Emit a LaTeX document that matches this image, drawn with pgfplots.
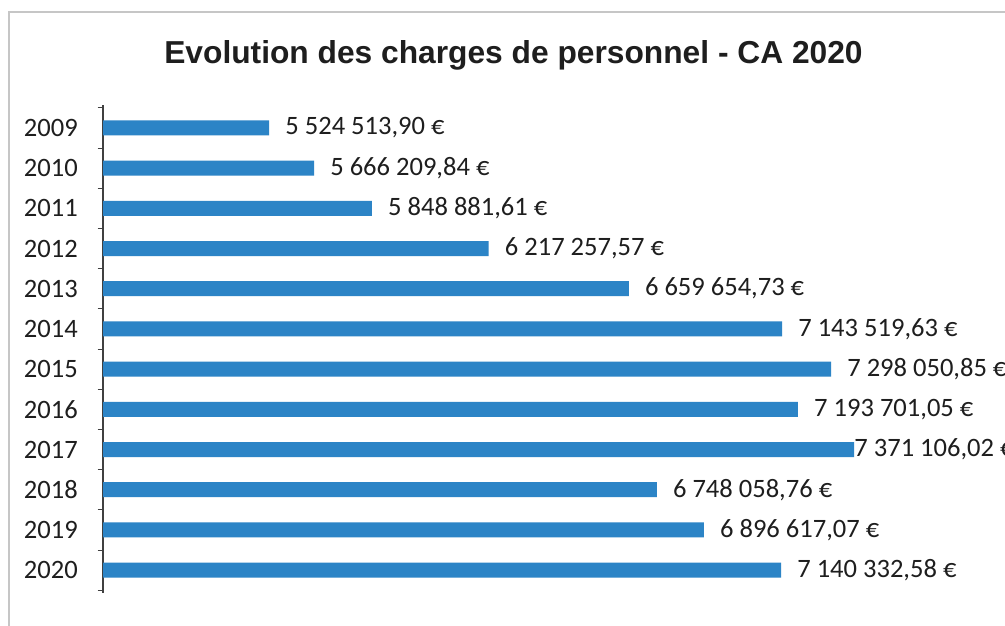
\documentclass[border=0pt]{standalone}
\usepackage{pgfplots}
\pgfplotsset{compat=1.18}
\usepackage{pgfplotstable}
\usepackage{fontspec}
\setmainfont{Carlito}
\newfontfamily\titlefont{Liberation Sans}
\definecolor{barblue}{RGB}{44,132,198}
\definecolor{txt}{RGB}{30,30,30}
\pgfplotstableread[col sep=semicolon]{
y;v;lab;sh
2009;5524513.90;{5 524 513,90 €};12
2010;5666209.84;{5 666 209,84 €};12
2011;5848881.61;{5 848 881,61 €};12
2012;6217257.57;{6 217 257,57 €};12
2013;6659654.73;{6 659 654,73 €};12
2014;7143519.63;{7 143 519,63 €};12
2015;7298050.85;{7 298 050,85 €};12
2016;7193701.05;{7 193 701,05 €};12
2017;7371106.02;{7 371 106,02 €};0
2018;6748058.76;{6 748 058,76 €};12
2019;6896617.07;{6 896 617,07 €};12
2020;7140332.58;{7 140 332,58 €};12
}\data
\begin{document}
\begin{tikzpicture}[x=1pt,y=1pt]
\path[use as bounding box] (0,0) rectangle (753.75,468.75);
\clip (0,0) rectangle (753.75,468.75);
\fill[white] (0,0) rectangle (753.75,468.75);
\draw[gray!45, line width=1.2pt] (6.75,-10) -- (6.75,459.75) -- (770,459.75);
\node[anchor=base, font=\titlefont\bfseries\fontsize{23.8}{28}\selectfont, text=txt] at (385.1,420.75) {Evolution des charges de personnel - CA 2020};
\begin{axis}[at={(77.25pt,24pt)}, anchor=south west, width=712.8pt, height=366pt, scale only axis,
  xmin=5000000, xmax=8000000, ymin=2008.43, ymax=2020.57, y dir=reverse,
  axis x line=none, axis y line*=left,
  y axis line style={line width=1.1pt, color=txt!85},
  ytick={2009,2010,...,2020},
  yticklabels={2009,2010,2011,2012,2013,2014,2015,2016,2017,2018,2019,2020},
  major tick length=0pt,
  minor ytick={2008.5,2009.5,...,2020.5}, minor tick length=4pt, tick align=center,
  minor tick style={line width=0.6pt, color=txt!85},
  yticklabel style={font=\fontsize{19.9}{24}\selectfont, text=txt, anchor=east, inner sep=0pt, xshift=-18.75pt},
  xbar, bar width=11.25pt,
  nodes near coords, point meta=explicit symbolic,
  visualization depends on={\thisrow{sh}\as\myshift},
  nodes near coords style={anchor=west, inner sep=0pt, font=\fontsize{19.9}{24}\selectfont, text=txt, xshift=\myshift*1pt},
]
\addplot[fill=barblue, draw=none] table[x=v,y=y,meta=lab]{\data};
\end{axis}
\end{tikzpicture}
\end{document}
